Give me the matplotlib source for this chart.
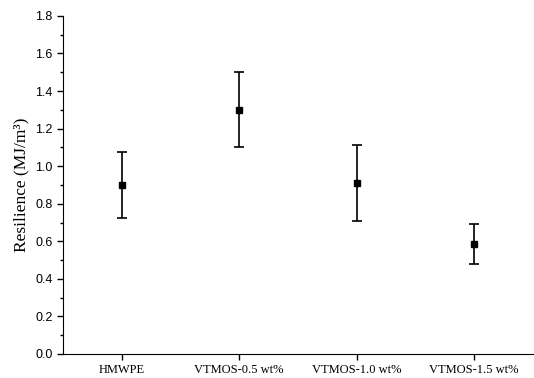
import matplotlib.pyplot as plt
from matplotlib.ticker import MultipleLocator, FormatStrFormatter

samples = ["HMWPE", "VTMOS-0.5 wt%", "VTMOS-1.0 wt%", "VTMOS-1.5 wt%"]
resilience = [0.90, 1.30, 0.91, 0.585]
errors = [0.178, 0.20, 0.20, 0.108]

fig = plt.figure(figsize=(5.34, 3.78), dpi=100)
ax = fig.add_axes([0.118, 0.0635, 0.88, 0.8945])

pos = range(1, len(samples) + 1)
ax.errorbar(pos, resilience, yerr=errors, fmt='s', color='black',
            markersize=5, capsize=3.5, elinewidth=1.2, capthick=1.2)

ax.set_xlim(0.5, 4.5)
ax.set_ylim(0, 1.8)
ax.set_xticks(list(pos))
ax.set_xticklabels(samples, family='Liberation Serif', fontsize=9)
ax.yaxis.set_major_locator(MultipleLocator(0.2))
ax.yaxis.set_minor_locator(MultipleLocator(0.1))
ax.yaxis.set_major_formatter(FormatStrFormatter('%.1f'))
ax.tick_params(axis='y', labelfontfamily='Liberation Sans', labelsize=9)

ax.spines['top'].set_visible(False)
ax.spines['right'].set_visible(False)
ax.tick_params(direction='out', length=4, width=1)
ax.tick_params(which='minor', direction='out', length=2.5, width=1)
ax.set_ylabel("Resilience (MJ/m³)", family='Liberation Serif', fontsize=12.5)

plt.savefig("out.png", dpi=100)
plt.close()
